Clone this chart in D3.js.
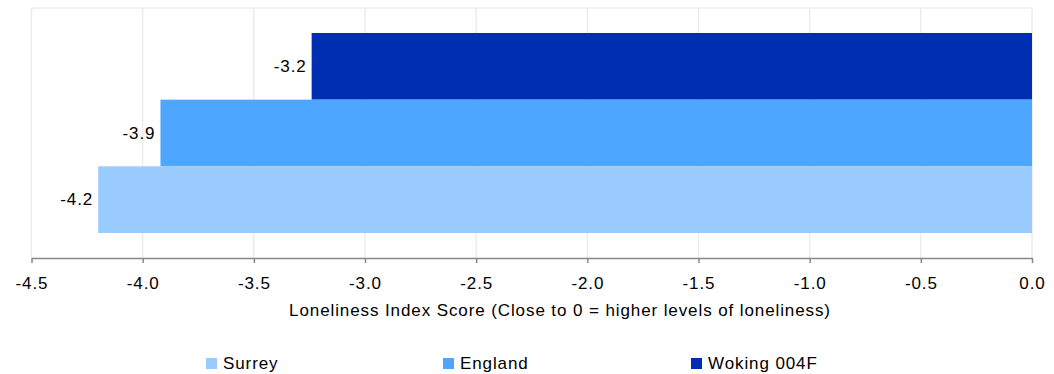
<!DOCTYPE html>
<html><head><meta charset="utf-8">
<script src="https://cdn.jsdelivr.net/npm/d3@7"></script>
<style>body{margin:0;background:#fff;} text{font-family:"Liberation Sans",Arial,sans-serif;letter-spacing:0.9px;}</style>
</head><body><svg id="c" width="1054" height="374"></svg>
<script>
const series = ["Woking 004F", "England", "Surrey"];
const values = [-3.24, -3.92, -4.2];
const labels = ["-3.2", "-3.9", "-4.2"];
const colors = ["#002EB2", "#4DA6FF", "#99CBFF"];
const legendOrder = ["Surrey", "England", "Woking 004F"];
const ticks = [-4.5, -4.0, -3.5, -3.0, -2.5, -2.0, -1.5, -1.0, -0.5, 0.0];
const axisTitle = "Loneliness Index Score (Close to 0 = higher levels of loneliness)";

const FS = 17;
const svg = d3.select("#c");
const L = 31.5, R = 1032, T = 8, B = 258;
const x = d3.scaleLinear().domain([-4.5, 0]).range([L, R]);
const y = d3.scaleBand().domain(series).range([T + 25, B - 25]).padding(0);

// grid
svg.append("g").selectAll("line").data(ticks).join("line")
  .attr("x1", d => x(d)).attr("x2", d => x(d)).attr("y1", T).attr("y2", B)
  .attr("stroke", "#ececec").attr("stroke-width", 1.5);
svg.append("line").attr("x1", L).attr("x2", R).attr("y1", T).attr("y2", T)
  .attr("stroke", "#ececec").attr("stroke-width", 1.5);

// bars
svg.append("g").selectAll("rect").data(series).join("rect")
  .attr("x", (d, i) => x(values[i])).attr("width", (d, i) => x(0) - x(values[i]))
  .attr("y", d => y(d)).attr("height", y.bandwidth())
  .attr("fill", (d, i) => colors[i]);

// value labels
svg.append("g").selectAll("text").data(series).join("text")
  .attr("x", (d, i) => x(values[i]) - 5).attr("y", d => y(d) + y.bandwidth() / 2)
  .attr("text-anchor", "end").attr("dominant-baseline", "central")
  .attr("font-size", FS).attr("fill", "#000").text((d, i) => labels[i]);

// axis
const ax = svg.append("g").attr("transform", `translate(0,${B})`)
  .call(d3.axisBottom(x).tickValues(ticks).tickFormat(d3.format(".1f")).tickSize(5).tickSizeOuter(0));
ax.select(".domain").attr("stroke", "#888").attr("stroke-width", 1.5);
ax.selectAll(".tick line").attr("stroke", "#888").attr("stroke-width", 1.5);
ax.selectAll(".tick text").attr("font-size", FS).attr("fill", "#000").attr("y", 0).attr("dy", 0)
  .attr("transform", "translate(0,31)")
  .attr("font-family", "Liberation Sans, Arial, sans-serif").text(d => d === 0 ? "0.0" : d3.format(".1f")(d).replace("−", "-"));

svg.append("text").attr("x", 560).attr("y", 316).attr("text-anchor", "middle")
  .attr("font-size", FS).attr("fill", "#000").text(axisTitle);

// legend
const legX = [206, 443, 691];
const lg = svg.append("g").selectAll("g").data(legendOrder).join("g")
  .attr("transform", (d, i) => `translate(${legX[i]},358)`);
lg.append("rect").attr("width", 11).attr("height", 11)
  .attr("fill", d => colors[series.indexOf(d)]);
lg.append("text").attr("x", 17).attr("y", 5.5).attr("dominant-baseline", "central")
  .attr("font-size", FS).attr("fill", "#000").text(d => d);
</script></body></html>
